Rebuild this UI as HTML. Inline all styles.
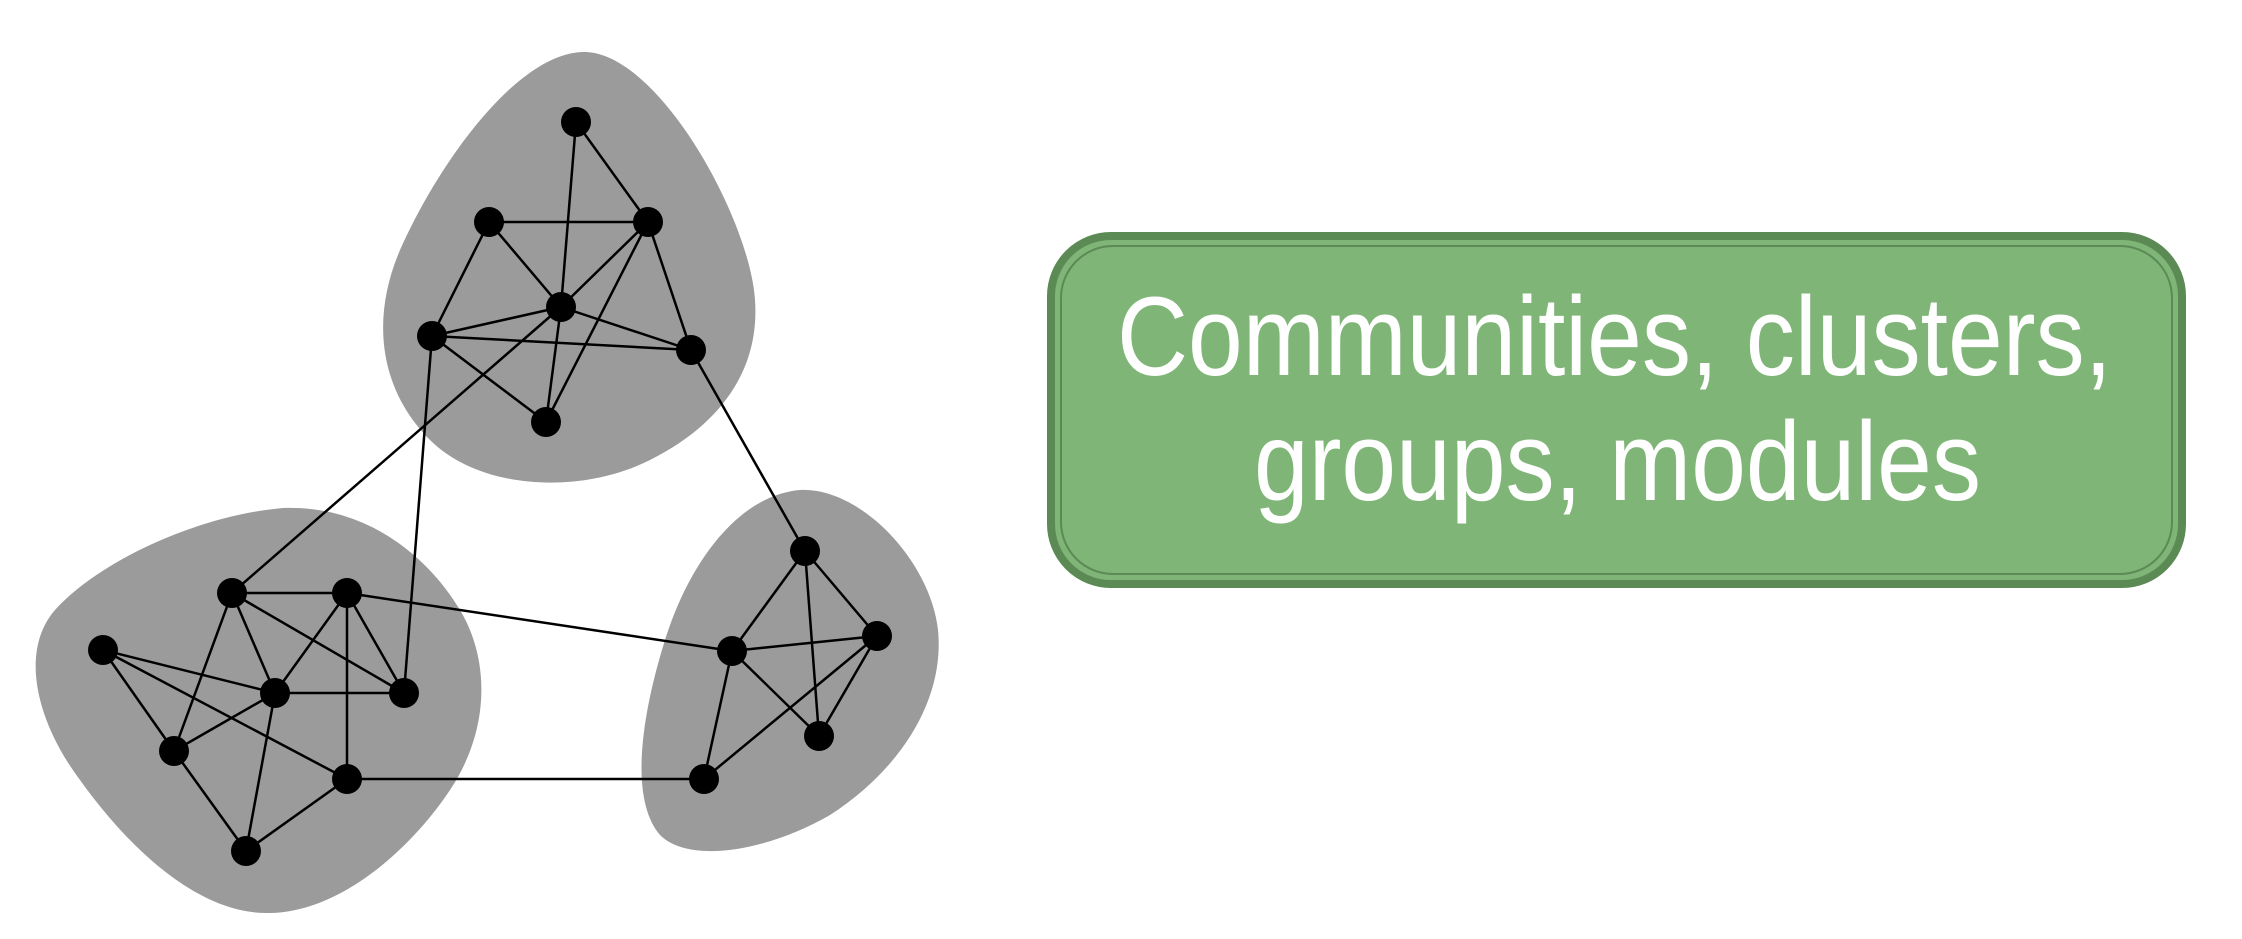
<!DOCTYPE html>
<html><head><meta charset="utf-8"><style>html,body{margin:0;padding:0;background:#fff;}svg{display:block}</style></head>
<body>
<svg width="2242" height="939" viewBox="0 0 2242 939" xmlns="http://www.w3.org/2000/svg">
<g fill="#9b9b9b">
<path d="M586,52 C520,50 440,160 400,250 C370,320 380,390 430,440 C480,490 580,495 650,460 C720,425 760,370 755,300 C750,220 660,55 586,52 Z"/>
<path d="M283,508 C200,515 100,560 55,610 C20,650 35,720 80,780 C130,850 200,915 270,913 C340,912 410,850 450,790 C490,730 490,660 460,610 C430,560 370,505 283,508 Z"/>
<path d="M800,490 C740,495 690,560 665,640 C640,720 630,800 660,835 C690,865 770,850 830,815 C900,770 945,700 938,630 C930,560 860,487 800,490 Z"/>
</g>
<g stroke="#000" stroke-width="2.5">
<!-- top -->
<line x1="576" y1="122" x2="561" y2="307"/><line x1="576" y1="122" x2="648" y2="222"/>
<line x1="489" y1="222" x2="648" y2="222"/><line x1="489" y1="222" x2="561" y2="307"/><line x1="489" y1="222" x2="432" y2="336"/>
<line x1="648" y1="222" x2="561" y2="307"/><line x1="648" y1="222" x2="691" y2="350"/><line x1="648" y1="222" x2="546" y2="422"/>
<line x1="561" y1="307" x2="432" y2="336"/><line x1="561" y1="307" x2="691" y2="350"/><line x1="561" y1="307" x2="546" y2="422"/>
<line x1="432" y1="336" x2="691" y2="350"/><line x1="432" y1="336" x2="546" y2="422"/>
<line x1="561" y1="307" x2="232" y2="593"/><line x1="432" y1="336" x2="404" y2="693"/><line x1="691" y1="350" x2="805" y2="551"/>
<!-- left -->
<line x1="232" y1="593" x2="347" y2="593"/><line x1="232" y1="593" x2="275" y2="693"/><line x1="232" y1="593" x2="174" y2="751"/><line x1="232" y1="593" x2="404" y2="693"/>
<line x1="347" y1="593" x2="275" y2="693"/><line x1="347" y1="593" x2="404" y2="693"/><line x1="347" y1="593" x2="347" y2="779"/>
<line x1="103" y1="650" x2="275" y2="693"/><line x1="103" y1="650" x2="174" y2="751"/><line x1="103" y1="650" x2="347" y2="779"/>
<line x1="275" y1="693" x2="174" y2="751"/><line x1="275" y1="693" x2="404" y2="693"/><line x1="275" y1="693" x2="246" y2="851"/>
<line x1="174" y1="751" x2="246" y2="851"/><line x1="347" y1="779" x2="246" y2="851"/>
<line x1="347" y1="593" x2="732" y2="651"/><line x1="347" y1="779" x2="704" y2="779"/>
<!-- right -->
<line x1="805" y1="551" x2="732" y2="651"/><line x1="805" y1="551" x2="877" y2="636"/><line x1="805" y1="551" x2="819" y2="736"/>
<line x1="732" y1="651" x2="877" y2="636"/><line x1="732" y1="651" x2="819" y2="736"/><line x1="732" y1="651" x2="704" y2="779"/>
<line x1="877" y1="636" x2="819" y2="736"/><line x1="877" y1="636" x2="704" y2="779"/>
</g>
<g fill="#000">
<circle cx="576" cy="122" r="15"/><circle cx="489" cy="222" r="15"/><circle cx="648" cy="222" r="15"/><circle cx="561" cy="307" r="15"/><circle cx="432" cy="336" r="15"/><circle cx="691" cy="350" r="15"/><circle cx="546" cy="422" r="15"/>
<circle cx="232" cy="593" r="15"/><circle cx="347" cy="593" r="15"/><circle cx="103" cy="650" r="15"/><circle cx="275" cy="693" r="15"/><circle cx="404" cy="693" r="15"/><circle cx="174" cy="751" r="15"/><circle cx="347" cy="779" r="15"/><circle cx="246" cy="851" r="15"/>
<circle cx="805" cy="551" r="15"/><circle cx="732" cy="651" r="15"/><circle cx="877" cy="636" r="15"/><circle cx="819" cy="736" r="15"/><circle cx="704" cy="779" r="15"/>
</g>
<rect x="1051" y="236" width="1131" height="348" rx="60" fill="#7fb577" stroke="#5c8a55" stroke-width="8"/>
<rect x="1061" y="246" width="1111" height="328" rx="52" fill="none" stroke="#5c8a55" stroke-width="2"/>
<g fill="#fff" font-family="Liberation Sans, Arial, sans-serif" font-size="112">
<text x="1117" y="375" textLength="995" lengthAdjust="spacingAndGlyphs">Communities, clusters,</text>
<text x="1254" y="500" textLength="727" lengthAdjust="spacingAndGlyphs">groups, modules</text>
</g>
</svg>
</body></html>
